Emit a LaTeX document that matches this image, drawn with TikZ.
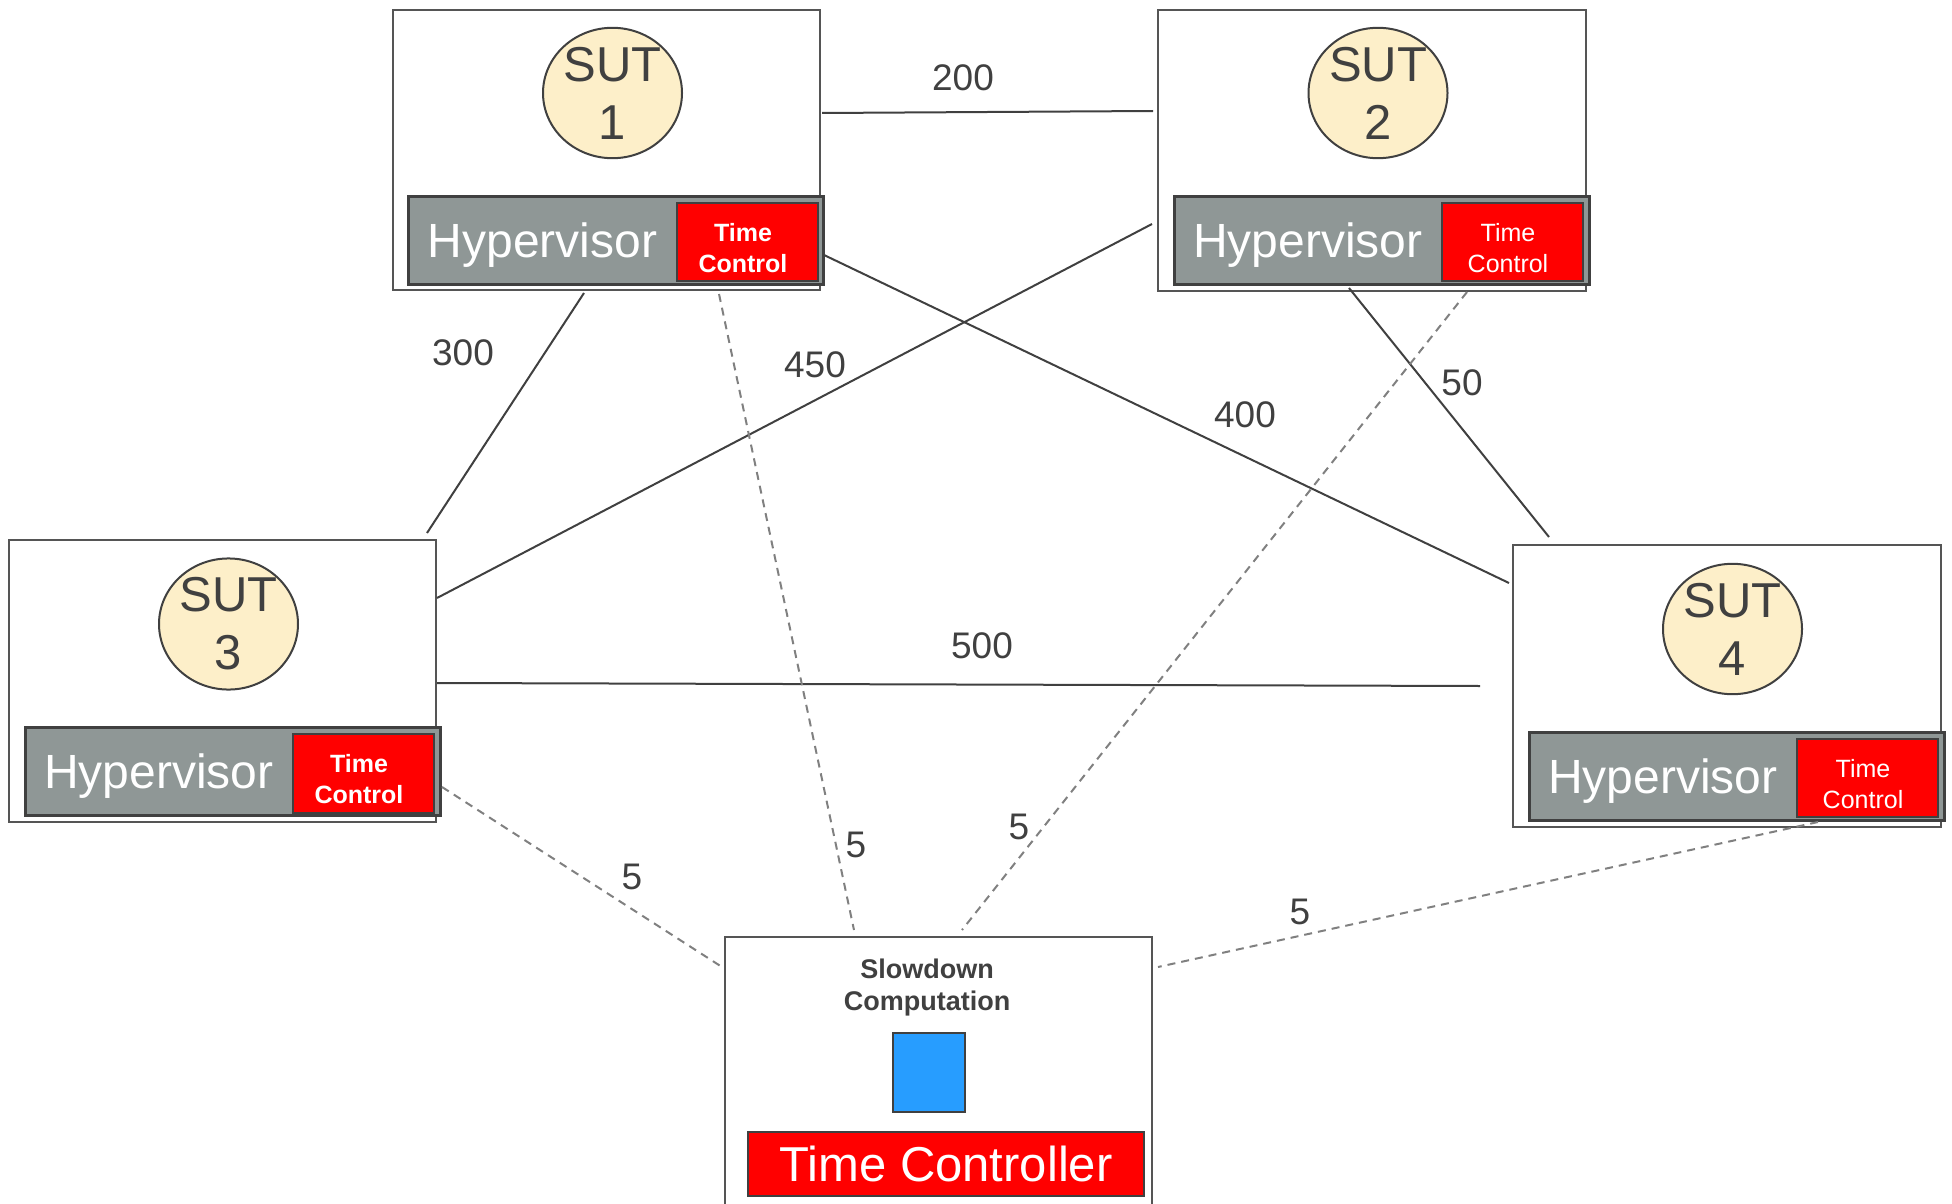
\documentclass[tikz,border=0pt]{standalone}
\usepackage{fontspec}
\setmainfont{Liberation Sans}
\usetikzlibrary{shapes.geometric}
\definecolor{txt}{HTML}{404040}
\definecolor{edgec}{HTML}{555555}
\definecolor{hyp}{HTML}{8F9796}
\definecolor{sutfill}{HTML}{FDEFC9}
\definecolor{slowblue}{HTML}{279DFF}
\definecolor{dashcol}{HTML}{808080}
\tikzset{
 outerbox/.style={draw=edgec, line width=2pt, fill=white, inner sep=0pt, outer sep=0pt, anchor=north west},
 hbar/.style={draw=txt, line width=3pt, fill=hyp, inner sep=0pt, outer sep=0pt, anchor=north west},
 tcbox/.style={draw=txt, line width=2pt, fill=red, inner sep=0pt, outer sep=0pt, anchor=north west},
 sut/.style={ellipse, draw=txt, line width=2pt, fill=sutfill, minimum width=139pt, minimum height=126pt, inner sep=0pt, text=txt, font=\fontsize{49}{58}\selectfont, align=center},
 hyptext/.style={text=white, font=\fontsize{48}{50}\selectfont, anchor=base, inner sep=0pt},
 tctext/.style={text=white, font=\fontsize{25}{31}\selectfont, align=center, inner sep=0pt},
 wlabel/.style={text=txt, font=\fontsize{37}{40}\selectfont, inner sep=0pt},
 link/.style={draw=txt, line width=2pt},
 tclink/.style={draw=dashcol, line width=2pt, dash pattern=on 8pt off 6pt},
}
\begin{document}
\begin{tikzpicture}[x=1pt,y=-1pt]
\useasboundingbox (0,0) rectangle (1952,1204);
% ---------- Box 1
\node[outerbox, minimum width=427pt, minimum height=280pt] (b1) at (393,10) {};
\node[sut] (s1) at (612.5,93) {SUT\\1};
\node[hbar, minimum width=415pt, minimum height=88pt] (h1) at (408,196) {};
\node[tcbox, minimum width=141pt, minimum height=78pt] (t1) at (677,203) {};
\node[hyptext] (h1t) at (542.5,257) {Hypervisor};
\node[tctext, font=\fontsize{25}{31}\selectfont\bfseries] (t1t) at (743,248) {Time\\Control};
% ---------- Box 2
\node[outerbox, minimum width=428pt, minimum height=281pt] (b2) at (1158,10) {};
\node[sut] (s2) at (1378,93) {SUT\\2};
\node[hbar, minimum width=415pt, minimum height=88pt] (h2) at (1174,196) {};
\node[tcbox, minimum width=141pt, minimum height=78pt] (t2) at (1442,203) {};
\node[hyptext] (h2t) at (1308,257) {Hypervisor};
\node[tctext] (t2t) at (1508,248) {Time\\Control};
% ---------- Box 3
\node[outerbox, minimum width=427pt, minimum height=282pt] (b3) at (9,540) {};
\node[sut] (s3) at (228.5,624) {SUT\\3};
\node[hbar, minimum width=415pt, minimum height=88pt] (h3) at (25,727) {};
\node[tcbox, minimum width=141pt, minimum height=79pt] (t3) at (293,734) {};
\node[hyptext] (h3t) at (159,788) {Hypervisor};
\node[tctext, font=\fontsize{25}{31}\selectfont\bfseries] (t3t) at (359,779) {Time\\Control};
% ---------- Box 4
\node[outerbox, minimum width=428pt, minimum height=282pt] (b4) at (1513,545) {};
\node[sut] (s4) at (1732.5,629) {SUT\\4};
\node[hbar, minimum width=415pt, minimum height=88pt] (h4) at (1529,732) {};
\node[tcbox, minimum width=141pt, minimum height=78pt] (t4) at (1797,739) {};
\node[hyptext] (h4t) at (1663,793) {Hypervisor};
\node[tctext] (t4t) at (1863,784) {Time\\Control};
% ---------- Time controller box
\node[outerbox, minimum width=427pt, minimum height=290pt] (tc) at (725,937) {};
\node[text=txt, font=\fontsize{27}{32}\selectfont\bfseries, align=center, inner sep=0pt] (slow) at (927,988) {Slowdown\\Computation};
\node[draw=txt, line width=2pt, fill=slowblue, inner sep=0pt, anchor=north west, minimum width=72pt, minimum height=79pt] (blue) at (892,1032) {};
\node[tcbox, minimum width=396pt, minimum height=64pt, text=white, font=\fontsize{49}{55}\selectfont] (tcbar) at (748,1132) {Time Controller};
% ---------- connector end points
\coordinate (a200) at (822,113);  \coordinate (b200) at (1153,111);
\coordinate (a300) at (584,293);  \coordinate (b300) at (427,533);
\coordinate (a450) at (1152,224); \coordinate (b450) at (437,598);
\coordinate (a400) at (824,255);  \coordinate (b400) at (1509,583);
\coordinate (a50) at (1349,288);  \coordinate (b50) at (1549,537);
\coordinate (a500) at (437,683);  \coordinate (b500) at (1480,686);
\coordinate (d1a) at (719,294);   \coordinate (d1b) at (854,930);
\coordinate (d2a) at (1467,292);  \coordinate (d2b) at (962,930);
\coordinate (d3a) at (442,787);   \coordinate (d3b) at (722,967);
\coordinate (d4a) at (1818,822);  \coordinate (d4b) at (1158,967);
% ---------- links
\draw[link] (a200) -- (b200);
\draw[link] (a300) -- (b300);
\draw[link] (a450) -- (b450);
\draw[link] (a400) -- (b400);
\draw[link] (a50) -- (b50);
\draw[link] (a500) -- (b500);
\draw[tclink] (d1a) -- (d1b);
\draw[tclink] (d2a) -- (d2b);
\draw[tclink] (d3a) -- (d3b);
\draw[tclink] (d4a) -- (d4b);
% ---------- labels
\node[wlabel] (l200) at (963,78) {200};
\node[wlabel] (l300) at (463,353) {300};
\node[wlabel] (l450) at (815,365) {450};
\node[wlabel] (l400) at (1245,415) {400};
\node[wlabel] (l50) at (1462,383) {50};
\node[wlabel] (l500) at (982,646) {500};
\node[wlabel] (l5a) at (632,877) {5};
\node[wlabel] (l5b) at (856,845) {5};
\node[wlabel] (l5c) at (1019,827) {5};
\node[wlabel] (l5d) at (1300,912) {5};
\end{tikzpicture}
\end{document}
